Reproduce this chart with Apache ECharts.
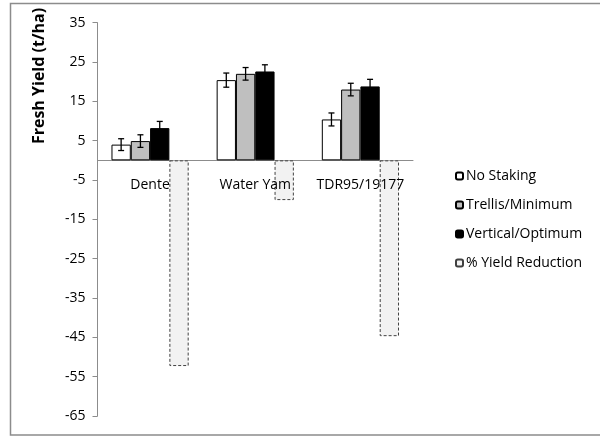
<!DOCTYPE html>
<html>
<head>
<meta charset="utf-8">
<script src="https://cdn.jsdelivr.net/npm/echarts@6/dist/echarts.min.js"></script>
<style>
  html, body { margin: 0; padding: 0; background: #fff; }
  #chart { width: 600px; height: 437px; }
</style>
</head>
<body>
<div id="chart"></div>
<script>
// Yam varieties and staking treatments
const categories = ['Dente', 'Water Yam', 'TDR95/19177'];
const noStaking = [4.0, 20.4, 10.4];
const trellisMinimum = [4.9, 22.0, 18.0];
const verticalOptimum = [8.2, 22.6, 18.8];
const yieldReduction = [-52.3, -10.1, -44.7];
// Standard errors for the three staking treatments
const errNoStaking = [1.5, 1.8, 1.65];
const errTrellis = [1.6, 1.6, 1.6];
const errVertical = [1.7, 1.7, 1.8];
const yTicks = { min: -65, max: 35, interval: 10 };

const FONT = 'Open Sans';
const BAR_W = 19.3;

const chart = echarts.init(document.getElementById('chart'));

// Error bar drawn over a given bar slot (0..3) inside each category group
function errorSeries(values, errs, slot) {
  return {
    type: 'custom',
    z: 10,
    silent: true,
    data: values.map((v, i) => [i, v - errs[i], v + errs[i]]),
    renderItem: function (params, api) {
      const c = api.coord([api.value(0), 0]);
      const x = c[0] - 2 * BAR_W + BAR_W * (slot + 0.5);
      const lo = api.coord([api.value(0), api.value(1)])[1];
      const hi = api.coord([api.value(0), api.value(2)])[1];
      const cap = 3;
      const st = { stroke: '#000', lineWidth: 1.3 };
      return {
        type: 'group',
        children: [
          { type: 'line', shape: { x1: x, y1: lo, x2: x, y2: hi }, style: st },
          { type: 'line', shape: { x1: x - cap, y1: lo, x2: x + cap, y2: lo }, style: st },
          { type: 'line', shape: { x1: x - cap, y1: hi, x2: x + cap, y2: hi }, style: st }
        ]
      };
    }
  };
}

// Category names placed just under the zero line
const categoryLabels = {
  type: 'custom',
  z: 5,
  silent: true,
  data: categories.map((c, i) => [i, 0]),
  renderItem: function (params, api) {
    const p = api.coord([api.value(0), api.value(1)]);
    return {
      type: 'text',
      x: p[0],
      y: p[1] + 25,
      style: {
        text: categories[params.dataIndex],
        font: '14px "' + FONT + '"',
        fill: '#000',
        align: 'center',
        verticalAlign: 'middle'
      }
    };
  }
};

chart.setOption({
  animation: false,
  backgroundColor: '#fff',
  grid: {
    left: 97.5, right: 187, top: 22.7, bottom: 21,
    containLabel: false, outerBoundsMode: 'none'
  },
  graphic: [
    {
      type: 'rect',
      shape: { x: 10.5, y: 3.5, width: 600, height: 431.5 },
      style: { fill: 'none', stroke: '#8c8c8c', lineWidth: 1.5 },
      silent: true
    },
    {
      type: 'text',
      x: 39.5, y: 76,
      rotation: Math.PI / 2,
      style: {
        text: 'Fresh Yield (t/ha)',
        font: 'bold 16px "' + FONT + '"',
        fill: '#000',
        align: 'center',
        verticalAlign: 'middle'
      }
    }
  ],
  legend: {
    orient: 'vertical',
    left: 450,
    top: 164,
    itemWidth: 7,
    itemHeight: 7,
    itemGap: 15,
    textStyle: { fontFamily: FONT, fontSize: 14, color: '#000', padding: [0, 0, 0, -2] },
    data: ['No Staking', 'Trellis/Minimum', 'Vertical/Optimum', '% Yield Reduction']
  },
  xAxis: {
    type: 'category',
    data: categories,
    axisLine: { onZero: true, lineStyle: { color: '#8c8c8c', width: 1 } },
    axisTick: { show: false },
    axisLabel: { show: false }
  },
  yAxis: {
    type: 'value',
    min: yTicks.min,
    max: yTicks.max,
    interval: yTicks.interval,
    axisLine: { show: true, lineStyle: { color: '#8c8c8c', width: 1 } },
    axisTick: { show: true, length: 5, lineStyle: { color: '#8c8c8c' } },
    splitLine: { show: false },
    axisLabel: { fontFamily: FONT, fontSize: 14, color: '#000', margin: 12 }
  },
  series: [
    {
      name: 'No Staking', type: 'bar', data: noStaking, barWidth: BAR_W, barGap: '0%',
      itemStyle: { color: '#ffffff', borderColor: '#000', borderWidth: 1 }
    },
    {
      name: 'Trellis/Minimum', type: 'bar', data: trellisMinimum, barWidth: BAR_W, barGap: '0%',
      itemStyle: { color: '#bfbfbf', borderColor: '#000', borderWidth: 1 }
    },
    {
      name: 'Vertical/Optimum', type: 'bar', data: verticalOptimum, barWidth: BAR_W, barGap: '0%',
      itemStyle: { color: '#000000', borderColor: '#000', borderWidth: 1 }
    },
    {
      name: '% Yield Reduction', type: 'bar', data: yieldReduction, barWidth: BAR_W, barGap: '0%',
      itemStyle: { color: '#f2f2f2', borderColor: '#404040', borderWidth: 1, borderType: [3, 2] }
    },
    errorSeries(noStaking, errNoStaking, 0),
    errorSeries(trellisMinimum, errTrellis, 1),
    errorSeries(verticalOptimum, errVertical, 2),
    categoryLabels
  ]
});
</script>
</body>
</html>
